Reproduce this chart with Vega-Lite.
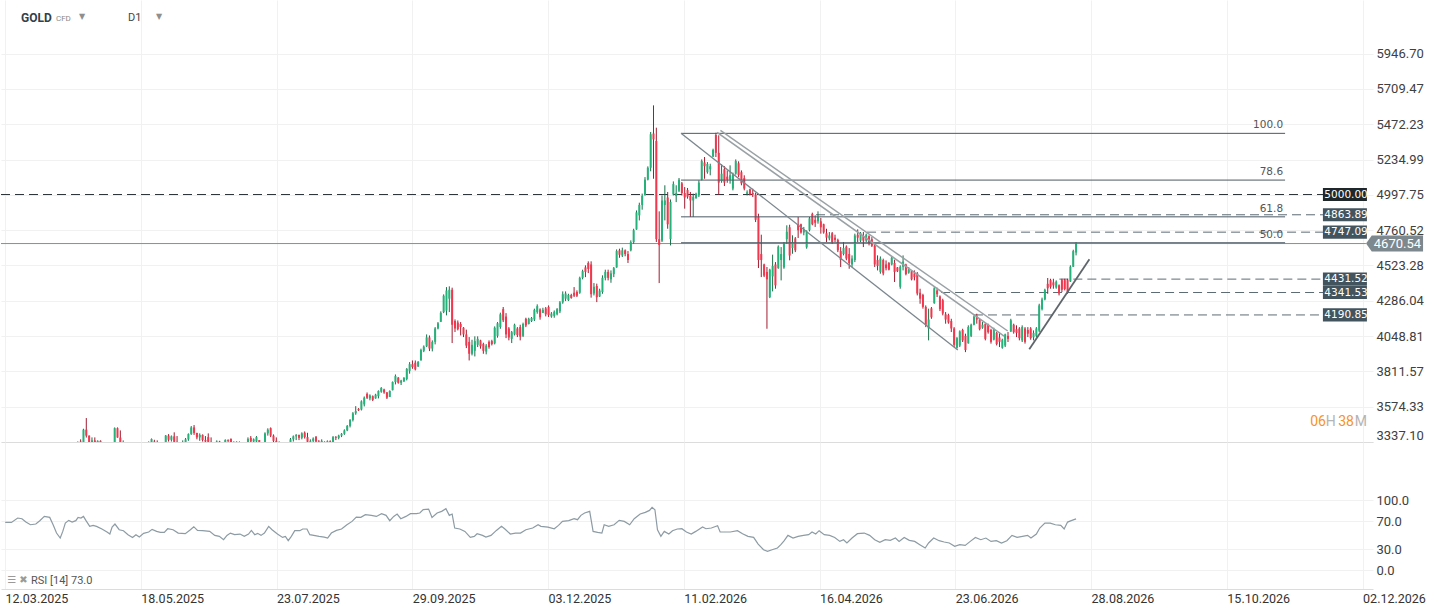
{
  "$schema": "https://vega.github.io/schema/vega-lite/v6.json",
  "padding": 0,
  "spacing": 0,
  "background": "white",
  "datasets": {
    "candles": [
      {"i":0,"o":2918,"h":2942,"l":2905,"c":2934},{"i":1,"o":2934,"h":2990,"l":2930,"c":2985},{"i":2,"o":2985,"h":3004,"l":2977,"c":2984},{"i":3,"o":2984,"h":3001,"l":2980,"c":3000},{"i":4,"o":3000,"h":3038,"l":2995,"c":3034},
      {"i":5,"o":3034,"h":3057,"l":3028,"c":3046},{"i":6,"o":3046,"h":3048,"l":3020,"c":3043},{"i":7,"o":3043,"h":3047,"l":3000,"c":3021},{"i":8,"o":3021,"h":3036,"l":3010,"c":3026},{"i":9,"o":3026,"h":3034,"l":3011,"c":3020},
      {"i":10,"o":3020,"h":3060,"l":3015,"c":3057},{"i":11,"o":3057,"h":3078,"l":3050,"c":3056},{"i":12,"o":3056,"h":3087,"l":3048,"c":3085},{"i":13,"o":3085,"h":3128,"l":3076,"c":3124},{"i":14,"o":3124,"h":3149,"l":3100,"c":3113},
      {"i":15,"o":3113,"h":3136,"l":3106,"c":3134},{"i":16,"o":3134,"h":3167,"l":3054,"c":3115},{"i":17,"o":3115,"h":3136,"l":3015,"c":3037},{"i":18,"o":3037,"h":3055,"l":2956,"c":2982},{"i":19,"o":2982,"h":3022,"l":2970,"c":2983},
      {"i":20,"o":2983,"h":3100,"l":2960,"c":3082},{"i":21,"o":3082,"h":3180,"l":3075,"c":3175},{"i":22,"o":3175,"h":3245,"l":3170,"c":3237},{"i":23,"o":3237,"h":3245,"l":3193,"c":3211},{"i":24,"o":3211,"h":3232,"l":3205,"c":3226},
      {"i":25,"o":3226,"h":3341,"l":3220,"c":3332},{"i":26,"o":3340,"h":3355,"l":3284,"c":3327},{"i":27,"o":3327,"h":3426,"l":3320,"c":3420},{"i":28,"o":3420,"h":3498,"l":3367,"c":3380},{"i":29,"o":3380,"h":3381,"l":3260,"c":3288},
      {"i":30,"o":3288,"h":3368,"l":3280,"c":3348},{"i":31,"o":3348,"h":3368,"l":3265,"c":3318},{"i":32,"o":3318,"h":3348,"l":3270,"c":3345},{"i":33,"o":3345,"h":3348,"l":3300,"c":3317},{"i":34,"o":3317,"h":3330,"l":3268,"c":3288},
      {"i":35,"o":3288,"h":3290,"l":3202,"c":3239},{"i":36,"o":3239,"h":3265,"l":3206,"c":3241},{"i":37,"o":3241,"h":3334,"l":3240,"c":3334},{"i":38,"o":3334,"h":3435,"l":3324,"c":3430},{"i":39,"o":3430,"h":3435,"l":3366,"c":3367},
      {"i":40,"o":3367,"h":3415,"l":3295,"c":3305},{"i":41,"o":3306,"h":3348,"l":3300,"c":3325},{"i":42,"o":3325,"h":3326,"l":3208,"c":3236},{"i":43,"o":3236,"h":3265,"l":3236,"c":3248},{"i":44,"o":3248,"h":3252,"l":3175,"c":3177},
      {"i":45,"o":3177,"h":3240,"l":3120,"c":3238},{"i":46,"o":3238,"h":3252,"l":3155,"c":3205},{"i":47,"o":3205,"h":3250,"l":3200,"c":3230},{"i":48,"o":3230,"h":3295,"l":3205,"c":3289},{"i":49,"o":3289,"h":3320,"l":3282,"c":3315},
      {"i":50,"o":3315,"h":3341,"l":3286,"c":3295},{"i":51,"o":3295,"h":3361,"l":3290,"c":3357},{"i":52,"o":3340,"h":3352,"l":3310,"c":3330},{"i":53,"o":3330,"h":3348,"l":3280,"c":3300},{"i":54,"o":3300,"h":3330,"l":3285,"c":3328},
      {"i":55,"o":3328,"h":3335,"l":3270,"c":3290},{"i":56,"o":3290,"h":3384,"l":3280,"c":3380},{"i":57,"o":3380,"h":3390,"l":3340,"c":3352},{"i":58,"o":3352,"h":3381,"l":3340,"c":3375},{"i":59,"o":3375,"h":3402,"l":3330,"c":3338},
      {"i":60,"o":3338,"h":3377,"l":3320,"c":3325},{"i":61,"o":3325,"h":3332,"l":3290,"c":3308},{"i":62,"o":3308,"h":3348,"l":3300,"c":3322},{"i":63,"o":3322,"h":3364,"l":3318,"c":3355},{"i":64,"o":3355,"h":3395,"l":3345,"c":3390},
      {"i":65,"o":3390,"h":3444,"l":3385,"c":3435},{"i":66,"o":3435,"h":3451,"l":3385,"c":3398},{"i":67,"o":3398,"h":3399,"l":3355,"c":3368},{"i":68,"o":3368,"h":3395,"l":3345,"c":3385},{"i":69,"o":3385,"h":3388,"l":3340,"c":3350},
      {"i":70,"o":3350,"h":3377,"l":3330,"c":3340},{"i":71,"o":3370,"h":3395,"l":3330,"c":3338},{"i":72,"o":3338,"h":3368,"l":3320,"c":3330},{"i":73,"o":3330,"h":3335,"l":3300,"c":3320},{"i":74,"o":3320,"h":3348,"l":3310,"c":3340},
      {"i":75,"o":3340,"h":3345,"l":3285,"c":3290},{"i":76,"o":3290,"h":3320,"l":3280,"c":3315},{"i":77,"o":3315,"h":3355,"l":3310,"c":3350},{"i":78,"o":3350,"h":3355,"l":3320,"c":3345},{"i":79,"o":3358,"h":3361,"l":3320,"c":3330},
      {"i":80,"o":3330,"h":3341,"l":3300,"c":3338},{"i":81,"o":3338,"h":3341,"l":3310,"c":3320},{"i":82,"o":3320,"h":3341,"l":3300,"c":3335},{"i":83,"o":3335,"h":3336,"l":3290,"c":3300},{"i":84,"o":3300,"h":3330,"l":3268,"c":3325},
      {"i":85,"o":3325,"h":3368,"l":3320,"c":3358},{"i":86,"o":3365,"h":3377,"l":3330,"c":3340},{"i":87,"o":3340,"h":3361,"l":3325,"c":3355},{"i":88,"o":3340,"h":3377,"l":3335,"c":3370},{"i":89,"o":3350,"h":3350,"l":3310,"c":3320},
      {"i":90,"o":3320,"h":3330,"l":3280,"c":3300},{"i":91,"o":3300,"h":3402,"l":3295,"c":3395},{"i":92,"o":3395,"h":3429,"l":3380,"c":3420},{"i":93,"o":3430,"h":3435,"l":3370,"c":3380},{"i":94,"o":3380,"h":3388,"l":3330,"c":3345},
      {"i":95,"o":3345,"h":3368,"l":3300,"c":3310},{"i":96,"o":3310,"h":3341,"l":3280,"c":3290},{"i":97,"o":3290,"h":3320,"l":3270,"c":3310},{"i":98,"o":3310,"h":3335,"l":3300,"c":3330},{"i":99,"o":3330,"h":3336,"l":3310,"c":3320},
      {"i":100,"o":3320,"h":3364,"l":3315,"c":3355},{"i":101,"o":3355,"h":3381,"l":3340,"c":3375},{"i":102,"o":3375,"h":3390,"l":3350,"c":3385},{"i":103,"o":3385,"h":3386,"l":3350,"c":3365},{"i":104,"o":3365,"h":3402,"l":3355,"c":3395},
      {"i":105,"o":3400,"h":3408,"l":3360,"c":3370},{"i":106,"o":3370,"h":3399,"l":3330,"c":3338},{"i":107,"o":3338,"h":3355,"l":3330,"c":3345},{"i":108,"o":3345,"h":3368,"l":3335,"c":3360},{"i":109,"o":3372,"h":3377,"l":3330,"c":3340},
      {"i":110,"o":3340,"h":3350,"l":3320,"c":3330},{"i":111,"o":3330,"h":3355,"l":3325,"c":3345},{"i":112,"o":3338,"h":3341,"l":3320,"c":3330},{"i":113,"o":3330,"h":3348,"l":3320,"c":3342},{"i":114,"o":3342,"h":3348,"l":3325,"c":3330},
      {"i":115,"o":3330,"h":3377,"l":3325,"c":3370},{"i":116,"o":3370,"h":3377,"l":3350,"c":3365},{"i":117,"o":3365,"h":3386,"l":3355,"c":3380},{"i":118,"o":3380,"h":3397,"l":3370,"c":3392},{"i":119,"o":3392,"h":3422,"l":3385,"c":3415},
      {"i":120,"o":3415,"h":3451,"l":3410,"c":3445},{"i":121,"o":3445,"h":3491,"l":3435,"c":3485},{"i":122,"o":3485,"h":3538,"l":3475,"c":3530},{"i":123,"o":3530,"h":3578,"l":3520,"c":3545},{"i":124,"o":3560,"h":3565,"l":3545,"c":3550},
      {"i":125,"o":3555,"h":3617,"l":3549,"c":3610},{"i":126,"o":3590,"h":3643,"l":3576,"c":3635},{"i":127,"o":3660,"h":3670,"l":3626,"c":3634},{"i":128,"o":3630,"h":3657,"l":3617,"c":3650},{"i":129,"o":3645,"h":3650,"l":3612,"c":3620},
      {"i":130,"o":3630,"h":3661,"l":3628,"c":3655},{"i":131,"o":3645,"h":3684,"l":3630,"c":3680},{"i":132,"o":3675,"h":3706,"l":3668,"c":3700},{"i":133,"o":3690,"h":3695,"l":3661,"c":3670},{"i":134,"o":3670,"h":3673,"l":3626,"c":3635},
      {"i":135,"o":3640,"h":3684,"l":3639,"c":3680},{"i":136,"o":3685,"h":3744,"l":3684,"c":3740},{"i":137,"o":3740,"h":3791,"l":3724,"c":3780},{"i":138,"o":3770,"h":3773,"l":3729,"c":3735},{"i":139,"o":3735,"h":3755,"l":3720,"c":3750},
      {"i":140,"o":3745,"h":3773,"l":3740,"c":3768},{"i":141,"o":3760,"h":3834,"l":3751,"c":3828},{"i":142,"o":3815,"h":3874,"l":3796,"c":3860},{"i":143,"o":3860,"h":3885,"l":3829,"c":3840},{"i":144,"o":3870,"h":3885,"l":3818,"c":3825},
      {"i":145,"o":3845,"h":3881,"l":3841,"c":3875},{"i":146,"o":3885,"h":3964,"l":3885,"c":3955},{"i":147,"o":3950,"h":3986,"l":3941,"c":3978},{"i":148,"o":3980,"h":4060,"l":3975,"c":4040},{"i":149,"o":4040,"h":4053,"l":3948,"c":3965},
      {"i":150,"o":3965,"h":4020,"l":3946,"c":4010},{"i":151,"o":4010,"h":4109,"l":3993,"c":4100},{"i":152,"o":4100,"h":4143,"l":4094,"c":4135},{"i":153,"o":4145,"h":4215,"l":4143,"c":4205},{"i":154,"o":4210,"h":4329,"l":4203,"c":4320},
      {"i":155,"o":4220,"h":4378,"l":4188,"c":4355},{"i":156,"o":4300,"h":4383,"l":4210,"c":4360},{"i":157,"o":4360,"h":4374,"l":4002,"c":4125},{"i":158,"o":4150,"h":4161,"l":4076,"c":4100},{"i":159,"o":4140,"h":4154,"l":4087,"c":4095},
      {"i":160,"o":4130,"h":4143,"l":4053,"c":4110},{"i":161,"o":4105,"h":4109,"l":4042,"c":4060},{"i":162,"o":4060,"h":4092,"l":3968,"c":3985},{"i":163,"o":4010,"h":4042,"l":3885,"c":3930},{"i":164,"o":3930,"h":4024,"l":3919,"c":3990},
      {"i":165,"o":3950,"h":4047,"l":3912,"c":4015},{"i":166,"o":3990,"h":4047,"l":3975,"c":4030},{"i":167,"o":4020,"h":4024,"l":3964,"c":3980},{"i":168,"o":3995,"h":4004,"l":3930,"c":3950},{"i":169,"o":3945,"h":3995,"l":3926,"c":3985},
      {"i":170,"o":4010,"h":4020,"l":3964,"c":3975},{"i":171,"o":4015,"h":4024,"l":3986,"c":3995},{"i":172,"o":4000,"h":4114,"l":3993,"c":4105},{"i":173,"o":4050,"h":4143,"l":4038,"c":4135},{"i":174,"o":4110,"h":4206,"l":4098,"c":4195},
      {"i":175,"o":4230,"h":4244,"l":4143,"c":4155},{"i":176,"o":4180,"h":4203,"l":4035,"c":4060},{"i":177,"o":4100,"h":4109,"l":4020,"c":4040},{"i":178,"o":4030,"h":4083,"l":4002,"c":4075},{"i":179,"o":4060,"h":4132,"l":4053,"c":4125},
      {"i":180,"o":4100,"h":4109,"l":4042,"c":4055},{"i":181,"o":4110,"h":4125,"l":4020,"c":4045},{"i":182,"o":4050,"h":4139,"l":4042,"c":4130},{"i":183,"o":4165,"h":4172,"l":4109,"c":4120},{"i":184,"o":4130,"h":4172,"l":4127,"c":4165},
      {"i":185,"o":4150,"h":4177,"l":4143,"c":4170},{"i":186,"o":4160,"h":4233,"l":4150,"c":4225},{"i":187,"o":4210,"h":4262,"l":4199,"c":4250},{"i":188,"o":4228,"h":4235,"l":4159,"c":4175},{"i":189,"o":4205,"h":4239,"l":4203,"c":4225},
      {"i":190,"o":4235,"h":4244,"l":4181,"c":4195},{"i":191,"o":4245,"h":4255,"l":4177,"c":4190},{"i":192,"o":4180,"h":4210,"l":4172,"c":4200},{"i":193,"o":4185,"h":4221,"l":4172,"c":4212},{"i":194,"o":4195,"h":4237,"l":4188,"c":4230},
      {"i":195,"o":4215,"h":4284,"l":4203,"c":4275},{"i":196,"o":4275,"h":4349,"l":4266,"c":4330},{"i":197,"o":4300,"h":4349,"l":4284,"c":4335},{"i":198,"o":4290,"h":4333,"l":4284,"c":4325},{"i":199,"o":4325,"h":4333,"l":4300,"c":4305},
      {"i":200,"o":4340,"h":4378,"l":4311,"c":4320},{"i":201,"o":4345,"h":4356,"l":4311,"c":4320},{"i":202,"o":4340,"h":4448,"l":4333,"c":4440},{"i":203,"o":4440,"h":4495,"l":4430,"c":4485},{"i":204,"o":4510,"h":4524,"l":4445,"c":4480},
      {"i":205,"o":4540,"h":4551,"l":4472,"c":4500},{"i":206,"o":4530,"h":4551,"l":4307,"c":4330},{"i":207,"o":4335,"h":4405,"l":4322,"c":4380},{"i":208,"o":4385,"h":4401,"l":4277,"c":4310},{"i":209,"o":4315,"h":4367,"l":4311,"c":4355},
      {"i":210,"o":4345,"h":4457,"l":4333,"c":4440},{"i":211,"o":4440,"h":4495,"l":4423,"c":4480},{"i":212,"o":4480,"h":4495,"l":4423,"c":4440},{"i":213,"o":4430,"h":4490,"l":4407,"c":4470},{"i":214,"o":4465,"h":4513,"l":4445,"c":4505},
      {"i":215,"o":4510,"h":4631,"l":4508,"c":4620},{"i":216,"o":4625,"h":4636,"l":4575,"c":4595},{"i":217,"o":4590,"h":4643,"l":4580,"c":4625},{"i":218,"o":4625,"h":4631,"l":4585,"c":4600},{"i":219,"o":4600,"h":4620,"l":4540,"c":4560},
      {"i":220,"o":4625,"h":4692,"l":4618,"c":4680},{"i":221,"o":4680,"h":4770,"l":4669,"c":4760},{"i":222,"o":4765,"h":4893,"l":4763,"c":4880},{"i":223,"o":4860,"h":4945,"l":4826,"c":4930},{"i":224,"o":4930,"h":5006,"l":4898,"c":4990},
      {"i":225,"o":4995,"h":5117,"l":4994,"c":5100},{"i":226,"o":5100,"h":5189,"l":5095,"c":5180},{"i":227,"o":5180,"h":5420,"l":5156,"c":5405},{"i":228,"o":5410,"h":5599,"l":5106,"c":5370},{"i":229,"o":5360,"h":5449,"l":4681,"c":4700},
      {"i":230,"o":4700,"h":4887,"l":4405,"c":4660},{"i":231,"o":4690,"h":4994,"l":4681,"c":4960},{"i":232,"o":4930,"h":5062,"l":4826,"c":4960},{"i":233,"o":4980,"h":5017,"l":4770,"c":4800},{"i":234,"o":4700,"h":4967,"l":4658,"c":4950},
      {"i":235,"o":5000,"h":5088,"l":4994,"c":5070},{"i":236,"o":4990,"h":5062,"l":4949,"c":5010},{"i":237,"o":5025,"h":5111,"l":5017,"c":5100},{"i":238,"o":5075,"h":5084,"l":4994,"c":5010},{"i":239,"o":5010,"h":5050,"l":4905,"c":4980},
      {"i":240,"o":5030,"h":5044,"l":4972,"c":4985},{"i":241,"o":4990,"h":5017,"l":4849,"c":4960},{"i":242,"o":4960,"h":5006,"l":4849,"c":4985},{"i":243,"o":4975,"h":5012,"l":4972,"c":5005},{"i":244,"o":4995,"h":5095,"l":4983,"c":5080},
      {"i":245,"o":5100,"h":5236,"l":5095,"c":5225},{"i":246,"o":5215,"h":5252,"l":5106,"c":5190},{"i":247,"o":5150,"h":5218,"l":5140,"c":5205},{"i":248,"o":5170,"h":5207,"l":5129,"c":5190},{"i":249,"o":5255,"h":5308,"l":5252,"c":5300},
      {"i":250,"o":5400,"h":5415,"l":5252,"c":5280},{"i":251,"o":5280,"h":5398,"l":4999,"c":5080},{"i":252,"o":5090,"h":5203,"l":5079,"c":5140},{"i":253,"o":5170,"h":5191,"l":5057,"c":5080},{"i":254,"o":5120,"h":5162,"l":5079,"c":5100},
      {"i":255,"o":5100,"h":5196,"l":5073,"c":5130},{"i":256,"o":5040,"h":5147,"l":5028,"c":5135},{"i":257,"o":5140,"h":5236,"l":5133,"c":5225},{"i":258,"o":5210,"h":5223,"l":5118,"c":5130},{"i":259,"o":5150,"h":5162,"l":5062,"c":5075},
      {"i":260,"o":5110,"h":5129,"l":5028,"c":5040},{"i":261,"o":5005,"h":5028,"l":4994,"c":5015},{"i":262,"o":5035,"h":5039,"l":4994,"c":5000},{"i":263,"o":5010,"h":5039,"l":4983,"c":5000},{"i":264,"o":5000,"h":5012,"l":4815,"c":4830},
      {"i":265,"o":4850,"h":4871,"l":4506,"c":4560},{"i":266,"o":4600,"h":4730,"l":4445,"c":4560},{"i":267,"o":4530,"h":4535,"l":4445,"c":4455},{"i":268,"o":4480,"h":4513,"l":4098,"c":4430},{"i":269,"o":4310,"h":4501,"l":4304,"c":4495},
      {"i":270,"o":4450,"h":4596,"l":4349,"c":4520},{"i":271,"o":4530,"h":4546,"l":4367,"c":4390},{"i":272,"o":4505,"h":4658,"l":4501,"c":4650},{"i":273,"o":4560,"h":4647,"l":4423,"c":4600},{"i":274,"o":4510,"h":4681,"l":4501,"c":4670},
      {"i":275,"o":4700,"h":4793,"l":4669,"c":4750},{"i":276,"o":4780,"h":4797,"l":4558,"c":4590},{"i":277,"o":4640,"h":4726,"l":4602,"c":4680},{"i":278,"o":4705,"h":4714,"l":4613,"c":4625},{"i":279,"o":4800,"h":4849,"l":4708,"c":4760},
      {"i":280,"o":4800,"h":4804,"l":4737,"c":4745},{"i":281,"o":4745,"h":4782,"l":4726,"c":4765},{"i":282,"o":4645,"h":4759,"l":4636,"c":4750},{"i":283,"o":4760,"h":4849,"l":4752,"c":4840},{"i":284,"o":4870,"h":4878,"l":4793,"c":4800},
      {"i":285,"o":4830,"h":4860,"l":4782,"c":4810},{"i":286,"o":4820,"h":4887,"l":4804,"c":4850},{"i":287,"o":4820,"h":4842,"l":4737,"c":4780},{"i":288,"o":4800,"h":4804,"l":4737,"c":4745},{"i":289,"o":4740,"h":4770,"l":4681,"c":4710},
      {"i":290,"o":4705,"h":4748,"l":4692,"c":4725},{"i":291,"o":4740,"h":4748,"l":4669,"c":4680},{"i":292,"o":4710,"h":4730,"l":4681,"c":4695},{"i":293,"o":4695,"h":4703,"l":4613,"c":4625},{"i":294,"o":4620,"h":4647,"l":4513,"c":4560},
      {"i":295,"o":4600,"h":4681,"l":4591,"c":4640},{"i":296,"o":4650,"h":4658,"l":4558,"c":4570},{"i":297,"o":4600,"h":4640,"l":4501,"c":4540},{"i":298,"o":4530,"h":4591,"l":4513,"c":4570},{"i":299,"o":4560,"h":4737,"l":4546,"c":4725},
      {"i":300,"o":4730,"h":4766,"l":4681,"c":4710},{"i":301,"o":4690,"h":4748,"l":4681,"c":4740},{"i":302,"o":4720,"h":4748,"l":4647,"c":4690},{"i":303,"o":4690,"h":4737,"l":4681,"c":4730},{"i":304,"o":4720,"h":4726,"l":4658,"c":4670},
      {"i":305,"o":4700,"h":4714,"l":4647,"c":4655},{"i":306,"o":4655,"h":4669,"l":4513,"c":4530},{"i":307,"o":4560,"h":4591,"l":4490,"c":4520},{"i":308,"o":4480,"h":4584,"l":4468,"c":4570},{"i":309,"o":4560,"h":4569,"l":4457,"c":4470},
      {"i":310,"o":4530,"h":4557,"l":4490,"c":4505},{"i":311,"o":4540,"h":4546,"l":4490,"c":4495},{"i":312,"o":4530,"h":4580,"l":4524,"c":4575},{"i":313,"o":4540,"h":4562,"l":4412,"c":4480},{"i":314,"o":4510,"h":4513,"l":4479,"c":4485},
      {"i":315,"o":4380,"h":4524,"l":4367,"c":4515},{"i":316,"o":4515,"h":4591,"l":4490,"c":4550},{"i":317,"o":4530,"h":4535,"l":4457,"c":4465},{"i":318,"o":4475,"h":4513,"l":4468,"c":4495},{"i":319,"o":4485,"h":4490,"l":4423,"c":4430},
      {"i":320,"o":4470,"h":4490,"l":4423,"c":4445},{"i":321,"o":4470,"h":4479,"l":4322,"c":4335},{"i":322,"o":4340,"h":4367,"l":4266,"c":4300},{"i":323,"o":4325,"h":4333,"l":4233,"c":4245},{"i":324,"o":4245,"h":4255,"l":4109,"c":4125},
      {"i":325,"o":4100,"h":4233,"l":4020,"c":4160},{"i":326,"o":4235,"h":4244,"l":4165,"c":4175},{"i":327,"o":4270,"h":4378,"l":4266,"c":4370},{"i":328,"o":4355,"h":4374,"l":4311,"c":4330},{"i":329,"o":4315,"h":4322,"l":4217,"c":4230},
      {"i":330,"o":4290,"h":4300,"l":4188,"c":4200},{"i":331,"o":4195,"h":4210,"l":4132,"c":4160},{"i":332,"o":4190,"h":4199,"l":4132,"c":4140},{"i":333,"o":4150,"h":4165,"l":4076,"c":4100},{"i":334,"o":4100,"h":4109,"l":3975,"c":3990},
      {"i":335,"o":3970,"h":4042,"l":3964,"c":4035},{"i":336,"o":3985,"h":4087,"l":3975,"c":4080},{"i":337,"o":4090,"h":4098,"l":4009,"c":4020},{"i":338,"o":4050,"h":4065,"l":3941,"c":3955},{"i":339,"o":4000,"h":4121,"l":3998,"c":4110},
      {"i":340,"o":4050,"h":4132,"l":4042,"c":4125},{"i":341,"o":4125,"h":4188,"l":4121,"c":4180},{"i":342,"o":4180,"h":4199,"l":4132,"c":4160},{"i":343,"o":4160,"h":4165,"l":4087,"c":4095},{"i":344,"o":4105,"h":4143,"l":4098,"c":4125},
      {"i":345,"o":4130,"h":4136,"l":4020,"c":4030},{"i":346,"o":4125,"h":4132,"l":4065,"c":4075},{"i":347,"o":4090,"h":4098,"l":3998,"c":4010},{"i":348,"o":4025,"h":4105,"l":4020,"c":4095},{"i":349,"o":4070,"h":4076,"l":3986,"c":3995},
      {"i":350,"o":4040,"h":4076,"l":3975,"c":4010},{"i":351,"o":3970,"h":4031,"l":3964,"c":4025},{"i":352,"o":3985,"h":4065,"l":3975,"c":4060},{"i":353,"o":4050,"h":4076,"l":4009,"c":4030},{"i":354,"o":4080,"h":4165,"l":4076,"c":4155},
      {"i":355,"o":4125,"h":4132,"l":4065,"c":4075},{"i":356,"o":4095,"h":4121,"l":4042,"c":4070},{"i":357,"o":4100,"h":4109,"l":4020,"c":4035},{"i":358,"o":4020,"h":4121,"l":4009,"c":4110},{"i":359,"o":4100,"h":4109,"l":3998,"c":4010},
      {"i":360,"o":4090,"h":4109,"l":4042,"c":4065},{"i":361,"o":4100,"h":4109,"l":4024,"c":4035},{"i":362,"o":4040,"h":4087,"l":4020,"c":4070},{"i":363,"o":4050,"h":4109,"l":4042,"c":4100},{"i":364,"o":4085,"h":4266,"l":4076,"c":4255},
      {"i":365,"o":4230,"h":4307,"l":4221,"c":4295},{"i":366,"o":4295,"h":4367,"l":4289,"c":4360},{"i":367,"o":4400,"h":4439,"l":4333,"c":4370},{"i":368,"o":4425,"h":4434,"l":4367,"c":4380},{"i":369,"o":4410,"h":4434,"l":4367,"c":4390},
      {"i":370,"o":4375,"h":4423,"l":4367,"c":4415},{"i":371,"o":4390,"h":4396,"l":4322,"c":4335},{"i":372,"o":4425,"h":4434,"l":4345,"c":4360},{"i":373,"o":4425,"h":4434,"l":4356,"c":4365},{"i":374,"o":4425,"h":4434,"l":4333,"c":4345},
      {"i":375,"o":4415,"h":4524,"l":4412,"c":4515},{"i":376,"o":4515,"h":4629,"l":4513,"c":4620},{"i":377,"o":4610,"h":4680,"l":4591,"c":4670.54}
    ],
    "rsi": [
      {"i":-0.6,"v":68.1},{"i":1.6,"v":68},{"i":3.8,"v":74.3},{"i":5.3,"v":73.3},{"i":6.7,"v":68.5},{"i":8.3,"v":64.7},{"i":10.2,"v":65.7},{"i":11.6,"v":70.5},{"i":13.2,"v":76.6},{"i":15.1,"v":75.2},
      {"i":16.3,"v":64.7},{"i":17.5,"v":52.8},{"i":18.8,"v":45.7},{"i":19.7,"v":55.2},{"i":20.6,"v":67.1},{"i":21.8,"v":70.9},{"i":23,"v":68.5},{"i":24.3,"v":70.5},{"i":25.1,"v":75.2},{"i":26.1,"v":74.3},
      {"i":27,"v":76.6},{"i":27.9,"v":70.5},{"i":29.2,"v":62.4},{"i":30.4,"v":63.8},{"i":31.6,"v":62.4},{"i":33.5,"v":58.6},{"i":35.3,"v":54.3},{"i":36.3,"v":51.4},{"i":37.1,"v":61.4},{"i":38.1,"v":65.7},
      {"i":39.6,"v":57.6},{"i":41.1,"v":56.2},{"i":42.7,"v":50.5},{"i":44.3,"v":46.6},{"i":45.5,"v":50.5},{"i":46.7,"v":47.1},{"i":48.2,"v":52.4},{"i":50,"v":54.3},{"i":51.2,"v":58.1},{"i":52.8,"v":55.2},
      {"i":54.1,"v":53.8},{"i":55.5,"v":53.8},{"i":56.7,"v":59},{"i":58.6,"v":57.6},{"i":60.4,"v":52.8},{"i":62.9,"v":51.9},{"i":64.7,"v":57.6},{"i":65.9,"v":61.9},{"i":67.2,"v":56.6},{"i":69,"v":56.2},
      {"i":71.5,"v":55.2},{"i":73.3,"v":49.5},{"i":74.9,"v":48.1},{"i":76.4,"v":43.3},{"i":77.6,"v":49.5},{"i":78.8,"v":52.8},{"i":80.3,"v":50.5},{"i":82.2,"v":51.4},{"i":83.7,"v":48.1},{"i":85.2,"v":51.4},
      {"i":86.2,"v":56.6},{"i":87.4,"v":50.5},{"i":88.4,"v":52.4},{"i":89.6,"v":49.5},{"i":90.8,"v":52.8},{"i":92.3,"v":62.4},{"i":93.5,"v":57.6},{"i":95.4,"v":51.4},{"i":97.2,"v":46.6},{"i":98.2,"v":48.1},
      {"i":99.2,"v":41.9},{"i":100.3,"v":48.1},{"i":101.5,"v":56.2},{"i":103.3,"v":56.2},{"i":104.3,"v":58.6},{"i":105.8,"v":58.6},{"i":106.8,"v":50.5},{"i":108.2,"v":49.5},{"i":110.1,"v":48.1},{"i":111.9,"v":47.1},
      {"i":113.1,"v":45.7},{"i":114.4,"v":52.8},{"i":116.2,"v":56.6},{"i":118,"v":58.6},{"i":119.9,"v":64.7},{"i":121.7,"v":69.5},{"i":123.2,"v":75.7},{"i":124.8,"v":75.2},{"i":126.4,"v":79},{"i":128.5,"v":78.1},
      {"i":130.3,"v":76.6},{"i":132.1,"v":80.5},{"i":133.7,"v":78.1},{"i":135,"v":70.5},{"i":136.4,"v":76.6},{"i":137.6,"v":80},{"i":138.9,"v":73.3},{"i":140.7,"v":76.6},{"i":142.3,"v":80.5},{"i":144.4,"v":80.5},
      {"i":145.6,"v":81.4},{"i":146.8,"v":86.2},{"i":148.7,"v":87.1},{"i":149.9,"v":75.2},{"i":151.7,"v":81.4},{"i":153.3,"v":83.8},{"i":154.8,"v":87.6},{"i":156,"v":78.1},{"i":157,"v":80},{"i":157.9,"v":60},
      {"i":159.7,"v":58.6},{"i":161.5,"v":55.2},{"i":163.4,"v":46.6},{"i":164.8,"v":48.1},{"i":165.8,"v":51.9},{"i":167.7,"v":49.5},{"i":168.9,"v":47.1},{"i":170.7,"v":49.5},{"i":172.6,"v":56.6},{"i":174.4,"v":62.4},
      {"i":175.6,"v":58.6},{"i":177.5,"v":51.4},{"i":179.3,"v":52.8},{"i":181.1,"v":52.8},{"i":183,"v":57.6},{"i":185.4,"v":60},{"i":187.3,"v":64.7},{"i":188.3,"v":62.4},{"i":190.8,"v":61.4},{"i":193,"v":59},
      {"i":194.5,"v":63.8},{"i":195.9,"v":69.5},{"i":198.1,"v":70.5},{"i":200,"v":73.3},{"i":201.2,"v":71.9},{"i":202.4,"v":78.1},{"i":203.7,"v":81.4},{"i":205.5,"v":83.8},{"i":206.7,"v":55.2},{"i":208.3,"v":53.8},
      {"i":209.8,"v":52.8},{"i":210.6,"v":64.7},{"i":212.2,"v":62.4},{"i":214.1,"v":64.7},{"i":215.9,"v":70.9},{"i":217.7,"v":69.5},{"i":219.6,"v":64.7},{"i":221.2,"v":73.3},{"i":223.3,"v":80},{"i":225.1,"v":82.4},
      {"i":226.6,"v":85.2},{"i":227.5,"v":89.5},{"i":228.5,"v":86.2},{"i":229.4,"v":57.6},{"i":230.6,"v":48.1},{"i":231.8,"v":55.2},{"i":233.4,"v":51.4},{"i":234.7,"v":56.2},{"i":236.4,"v":58.6},{"i":238,"v":59},
      {"i":239.6,"v":54.3},{"i":241.3,"v":51.4},{"i":242.9,"v":55.2},{"i":245.3,"v":61.4},{"i":246.5,"v":59},{"i":248.4,"v":60},{"i":250.6,"v":63.3},{"i":251.5,"v":54.3},{"i":253.3,"v":54.3},{"i":255.1,"v":54.3},
      {"i":257.6,"v":56.2},{"i":259.4,"v":51.9},{"i":261.3,"v":48.1},{"i":263.3,"v":46.6},{"i":264.9,"v":37.1},{"i":266.8,"v":29},{"i":268.2,"v":26.6},{"i":269.8,"v":29},{"i":271.7,"v":31.4},{"i":272.9,"v":36.2},
      {"i":274.1,"v":41.9},{"i":275.4,"v":49.5},{"i":277.2,"v":45.7},{"i":279,"v":48.1},{"i":280.9,"v":49.5},{"i":282.7,"v":50.5},{"i":283.9,"v":54.3},{"i":285.2,"v":51.4},{"i":286.4,"v":56.2},{"i":288.2,"v":50.5},
      {"i":290.1,"v":49.5},{"i":291.9,"v":46.6},{"i":293.7,"v":40.9},{"i":295,"v":43.3},{"i":296.2,"v":38.6},{"i":298,"v":45.7},{"i":299.9,"v":51.9},{"i":302.3,"v":52.8},{"i":304.2,"v":49.5},{"i":306,"v":43.3},
      {"i":307.8,"v":39.5},{"i":309.7,"v":43.3},{"i":311.5,"v":42.4},{"i":313.3,"v":45.7},{"i":314.6,"v":40.9},{"i":316.4,"v":46.6},{"i":318.2,"v":42.4},{"i":320.1,"v":40.9},{"i":321.9,"v":36.2},{"i":323.8,"v":31.4},
      {"i":325,"v":38.6},{"i":326.8,"v":45.7},{"i":328.7,"v":41.9},{"i":330.5,"v":40},{"i":332.3,"v":38.6},{"i":334.2,"v":33.8},{"i":336,"v":36.2},{"i":337.9,"v":35.2},{"i":339.7,"v":40.9},{"i":341.5,"v":46.6},
      {"i":343.4,"v":43.3},{"i":345.2,"v":45.7},{"i":347,"v":40.9},{"i":348.9,"v":41.9},{"i":350.7,"v":38.6},{"i":352.6,"v":41.9},{"i":354.4,"v":49.5},{"i":356.2,"v":46.6},{"i":358.1,"v":48.1},{"i":359.9,"v":49.5},
      {"i":361.1,"v":45.7},{"i":363,"v":51.4},{"i":364.2,"v":60},{"i":366,"v":67.1},{"i":367.9,"v":67.1},{"i":369.7,"v":64.7},{"i":371.6,"v":63.8},{"i":372.8,"v":58.6},{"i":374,"v":68.5},{"i":375.3,"v":70.5},
      {"i":377,"v":73}
    ],
    "fib": [
      {"lab":"100.0","p":5411},{"lab":"78.6","p":5097},{"lab":"61.8","p":4850},{"lab":"50.0","p":4676}
    ],
    "levels": [
      {"p":5000,"lab":"5000.00","t":"round","i1":-2.08},
      {"p":4863.89,"lab":"4863.89","t":"level","i1":285.3},
      {"p":4747.09,"lab":"4747.09","t":"level","i1":303.3},
      {"p":4431.52,"lab":"4431.52","t":"level","i1":371.1},
      {"p":4341.53,"lab":"4341.53","t":"level","i1":329.4},
      {"p":4190.85,"lab":"4190.85","t":"level","i1":341.0}
    ],
    "lines": [
      {"g":"lo","i":237.7,"p":5411},{"g":"lo","i":335.3,"p":3955},
      {"g":"upA","i":251.6,"p":5431},{"g":"upA","i":352.9,"p":4083},
      {"g":"upB","i":250.4,"p":5418},{"g":"upB","i":351.6,"p":4049},
      {"g":"tr","i":360.5,"p":3960},{"g":"tr","i":381.7,"p":4565}
    ],
    "one": [{}]
  },
  "vconcat": [
    {
      "width": 1372,
      "height": 442,
      "resolve": {"scale": {"color": "independent", "strokeWidth": "independent"}},
      "layer": [
        {
          "data": {"name": "levels"},
          "mark": {"type": "rule", "strokeDash": [9, 5], "strokeWidth": 1},
          "encoding": {
            "x": {"field": "i1", "type": "quantitative", "title": null, "scale": {"domain": [-2.08, 481.7], "nice": false, "zero": false},
              "axis": {"title": null, "orient": "bottom", "values": [-0.67, 47.2, 95.07, 142.94, 190.81, 238.68, 286.55, 334.42, 382.29, 430.16, 478.03],
                "labels": false, "ticks": false, "domain": true, "domainColor": "#dcdcdc", "grid": true, "gridColor": "#f1f1f1"}},
            "x2": {"datum": 464.1},
            "y": {"field": "p", "type": "quantitative", "title": null, "scale": {"domain": [3337.1, 6307], "nice": false, "zero": false},
              "axis": {"title": null, "orient": "right", "values": [3337.1, 3574.33, 3811.57, 4048.81, 4286.04, 4523.28, 4760.52, 4997.75, 5234.99, 5472.23, 5709.47, 5946.7],
                "format": ".2f", "labelFlush": true, "labelPadding": 3, "labelFontSize": 13, "labelColor": "#404040", "ticks": false, "domain": false, "grid": true, "gridColor": "#f1f1f1"}},
            "color": {"field": "t", "type": "nominal", "scale": {"domain": ["round", "level"], "range": ["#2b3338", "#5d6b75"]}, "legend": null}
          }
        },
        {
          "data": {"name": "one"},
          "mark": {"type": "rule", "color": "#858f94", "strokeWidth": 1},
          "encoding": {
            "x": {"datum": -2.08, "type": "quantitative", "title": null},
            "x2": {"datum": 479.2},
            "y": {"datum": 4670.54, "type": "quantitative", "title": null}
          }
        },
        {
          "data": {"name": "candles"},
          "mark": {"type": "rule", "strokeWidth": 1, "clip": true},
          "encoding": {
            "x": {"field": "i", "type": "quantitative", "title": null},
            "y": {"field": "h", "type": "quantitative", "title": null},
            "y2": {"field": "l"},
            "color": {"condition": {"test": "datum.c >= datum.o", "value": "#1b6f4a"}, "value": "#a11c30"}
          }
        },
        {
          "data": {"name": "candles"},
          "mark": {"type": "rule", "strokeWidth": 2, "clip": true},
          "encoding": {
            "x": {"field": "i", "type": "quantitative", "title": null},
            "y": {"field": "o", "type": "quantitative", "title": null},
            "y2": {"field": "c"},
            "color": {"condition": {"test": "datum.c >= datum.o", "value": "#25b27a"}, "value": "#f2364d"}
          }
        },
        {
          "data": {"name": "fib"},
          "mark": {"type": "rule", "color": "#4c5a64", "strokeWidth": 1},
          "encoding": {
            "x": {"datum": 237.7, "type": "quantitative", "title": null},
            "x2": {"datum": 450.7},
            "y": {"field": "p", "type": "quantitative", "title": null}
          }
        },
        {
          "data": {"name": "fib"},
          "mark": {"type": "text", "align": "right", "baseline": "bottom", "dy": -3, "dx": -2, "fontSize": 10.5, "font": "DejaVu Sans", "color": "#555555"},
          "encoding": {
            "x": {"datum": 450.7, "type": "quantitative", "title": null},
            "y": {"field": "p", "type": "quantitative", "title": null},
            "text": {"field": "lab"}
          }
        },
        {
          "data": {"name": "lines"},
          "mark": {"type": "line"},
          "encoding": {
            "x": {"field": "i", "type": "quantitative", "title": null},
            "y": {"field": "p", "type": "quantitative", "title": null},
            "detail": {"field": "g"},
            "color": {"field": "g", "type": "nominal", "scale": {"domain": ["lo", "upA", "upB", "tr"], "range": ["#7a868d", "#9aa1a5", "#9aa1a5", "#5f666b"]}, "legend": null},
            "strokeWidth": {"field": "g", "type": "nominal", "scale": {"domain": ["lo", "upA", "upB", "tr"], "range": [1.3, 1.8, 1.8, 1.3]}, "legend": null}
          }
        },
        {
          "data": {"name": "levels"},
          "mark": {"type": "point", "shape": "M-1,-0.3L1,-0.3L1,0.3L-1,0.3Z", "size": 1936, "filled": true, "opacity": 1, "strokeWidth": 0},
          "encoding": {
            "x": {"datum": 471.8, "type": "quantitative", "title": null},
            "y": {"field": "p", "type": "quantitative", "title": null},
            "color": {"field": "t", "type": "nominal", "scale": {"domain": ["round", "level"], "range": ["#1f272b", "#44545e"]}, "legend": null}
          }
        },
        {
          "data": {"name": "levels"},
          "mark": {"type": "text", "align": "center", "baseline": "middle", "fontSize": 10.5, "font": "DejaVu Sans", "color": "white"},
          "encoding": {
            "x": {"datum": 472.2, "type": "quantitative", "title": null},
            "y": {"field": "p", "type": "quantitative", "title": null},
            "text": {"field": "lab"}
          }
        },
        {
          "data": {"name": "one"},
          "mark": {"type": "point", "shape": "M-1,0L-0.8,-0.28L1,-0.28L1,0.28L-0.8,0.28Z", "size": 3249, "filled": true, "opacity": 1, "strokeWidth": 0, "color": "#7d888e"},
          "encoding": {
            "x": {"datum": 489.3, "type": "quantitative", "title": null},
            "y": {"datum": 4670.54, "type": "quantitative", "title": null}
          }
        },
        {
          "data": {"name": "one"},
          "mark": {"type": "text", "align": "center", "baseline": "middle", "fontSize": 13, "font": "Roboto", "color": "white"},
          "encoding": {
            "x": {"datum": 490.3, "type": "quantitative", "title": null},
            "y": {"datum": 4670.54, "type": "quantitative", "title": null},
            "text": {"value": "4670.54"}
          }
        },
        {
          "data": {"name": "one"},
          "mark": {"type": "text", "align": "left", "baseline": "middle", "fontSize": 12, "fontWeight": "bold", "font": "Roboto", "color": "#33404a"},
          "encoding": {
            "x": {"datum": 4.97, "type": "quantitative", "title": null},
            "y": {"datum": 6186, "type": "quantitative", "title": null},
            "text": {"value": "GOLD"}
          }
        },
        {
          "data": {"name": "one"},
          "mark": {"type": "text", "align": "left", "baseline": "middle", "fontSize": 8, "font": "Roboto", "color": "#8a8a8a"},
          "encoding": {
            "x": {"datum": 17.3, "type": "quantitative", "title": null},
            "y": {"datum": 6180, "type": "quantitative", "title": null},
            "text": {"value": "CFD"}
          }
        },
        {
          "data": {"name": "one"},
          "mark": {"type": "text", "align": "left", "baseline": "middle", "fontSize": 11, "font": "Roboto", "color": "#444444"},
          "encoding": {
            "x": {"datum": 42.7, "type": "quantitative", "title": null},
            "y": {"datum": 6183, "type": "quantitative", "title": null},
            "text": {"value": "D1"}
          }
        },
        {
          "data": {"name": "one"},
          "mark": {"type": "text", "align": "left", "baseline": "middle", "fontSize": 8, "font": "DejaVu Sans", "color": "#8f8f8f"},
          "encoding": {
            "x": {"datum": 25.4, "type": "quantitative", "title": null},
            "y": {"datum": 6196, "type": "quantitative", "title": null},
            "text": {"value": "▼"}
          }
        },
        {
          "data": {"name": "one"},
          "mark": {"type": "text", "align": "left", "baseline": "middle", "fontSize": 8, "font": "DejaVu Sans", "color": "#8f8f8f"},
          "encoding": {
            "x": {"datum": 52.6, "type": "quantitative", "title": null},
            "y": {"datum": 6196, "type": "quantitative", "title": null},
            "text": {"value": "▼"}
          }
        },
        {
          "data": {"name": "one"},
          "mark": {"type": "text", "align": "right", "baseline": "middle", "fontSize": 14, "font": "Roboto", "color": "#f7931e"},
          "encoding": {
            "x": {"datum": 465.1, "type": "quantitative", "title": null},
            "y": {"datum": 3471, "type": "quantitative", "title": null},
            "text": {"value": "06"}
          }
        },
        {
          "data": {"name": "one"},
          "mark": {"type": "text", "align": "right", "baseline": "middle", "fontSize": 14, "font": "Roboto", "color": "#b4b4b4"},
          "encoding": {
            "x": {"datum": 468.6, "type": "quantitative", "title": null},
            "y": {"datum": 3471, "type": "quantitative", "title": null},
            "text": {"value": "H"}
          }
        },
        {
          "data": {"name": "one"},
          "mark": {"type": "text", "align": "right", "baseline": "middle", "fontSize": 14, "font": "Roboto", "color": "#f7931e"},
          "encoding": {
            "x": {"datum": 475.0, "type": "quantitative", "title": null},
            "y": {"datum": 3471, "type": "quantitative", "title": null},
            "text": {"value": "38"}
          }
        },
        {
          "data": {"name": "one"},
          "mark": {"type": "text", "align": "right", "baseline": "middle", "fontSize": 14, "font": "Roboto", "color": "#b4b4b4"},
          "encoding": {
            "x": {"datum": 479.6, "type": "quantitative", "title": null},
            "y": {"datum": 3471, "type": "quantitative", "title": null},
            "text": {"value": "M"}
          }
        }
      ]
    },
    {
      "width": 1372,
      "height": 147,
      "layer": [
        {
          "data": {"name": "rsi"},
          "mark": {"type": "line", "color": "#8c9ba4", "strokeWidth": 1.2, "clip": true},
          "encoding": {
            "x": {"field": "i", "type": "quantitative", "title": null, "scale": {"domain": [-2.08, 481.7], "nice": false, "zero": false},
              "axis": {"title": null, "orient": "bottom", "values": [-0.67, 47.2, 95.07, 142.94, 190.81, 238.68, 286.55, 334.42, 382.29, 430.16, 478.03],
                "labelExpr": "['12.03.2025','18.05.2025','23.07.2025','29.09.2025','03.12.2025','11.02.2026','16.04.2026','23.06.2026','28.08.2026','15.10.2026','02.12.2026'][round((datum.value + 0.67) / 47.87)]",
                "labelAlign": "left", "labelPadding": 3, "labelFontSize": 12.5, "labelColor": "#333333", "labelFlush": false, "labelOverlap": false,
                "ticks": false, "domain": true, "domainColor": "#dcdcdc", "grid": true, "gridColor": "#f1f1f1"}},
            "y": {"field": "v", "type": "quantitative", "title": null, "scale": {"domain": [-27.1, 182.9], "nice": false, "zero": false},
              "axis": {"title": null, "orient": "right", "values": [0, 30, 70, 100], "format": ".1f", "labelPadding": 3, "labelFontSize": 13, "labelColor": "#404040",
                "ticks": false, "domain": false, "grid": true, "gridColor": "#f1f1f1"}}
          }
        },
        {
          "data": {"name": "one"},
          "mark": {"type": "text", "align": "left", "baseline": "middle", "fontSize": 10, "font": "DejaVu Sans", "color": "#9a9a9a"},
          "encoding": {
            "x": {"datum": 0.1, "type": "quantitative", "title": null},
            "y": {"datum": -14, "type": "quantitative", "title": null},
            "text": {"value": "☰ ✖"}
          }
        },
        {
          "data": {"name": "one"},
          "mark": {"type": "text", "align": "left", "baseline": "middle", "fontSize": 11, "font": "Roboto", "color": "#555555"},
          "encoding": {
            "x": {"datum": 8.5, "type": "quantitative", "title": null},
            "y": {"datum": -15.3, "type": "quantitative", "title": null},
            "text": {"value": "RSI [14] 73.0"}
          }
        }
      ]
    }
  ],
  "config": {
    "view": {"stroke": null},
    "axis": {"labelFont": "Roboto"},
    "text": {"font": "Roboto"}
  }
}
